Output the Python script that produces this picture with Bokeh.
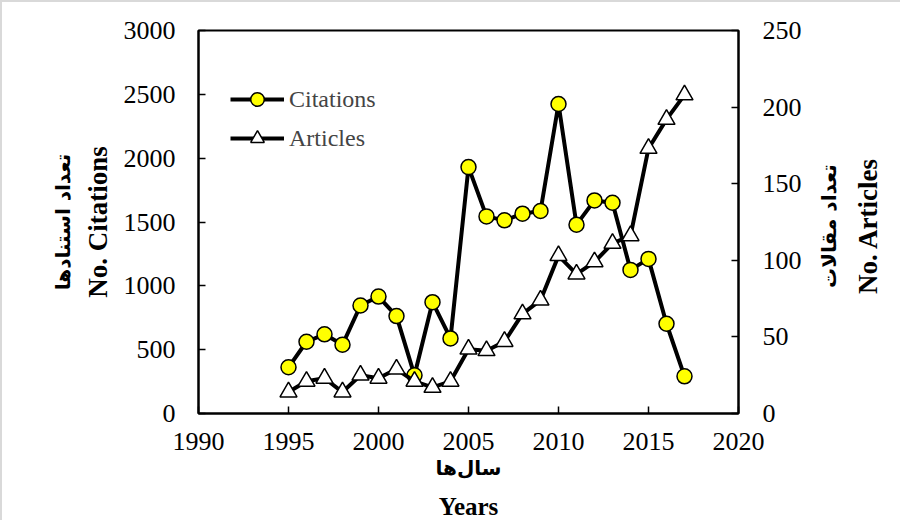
import math
from bokeh.plotting import figure
from bokeh.models import Range1d, LinearAxis, Legend, LegendItem, FixedTicker
from bokeh.embed import file_html
from bokeh.resources import INLINE

# ---- data ----
years = list(range(1995, 2018))
citations = [362, 562, 620, 539, 846, 916, 763, 299, 872, 588, 1930, 1544,
             1513, 1565, 1586, 2424, 1479, 1669, 1651, 1125, 1211, 703, 291]
articles = [14, 21, 23, 14, 25, 23, 29, 21, 17, 21, 42, 41, 47, 65, 74,
            103, 91, 99, 111, 116, 173, 192, 208]
x_ticks = [1990, 1995, 2000, 2005, 2010, 2015, 2020]
left_ticks = [0, 500, 1000, 1500, 2000, 2500, 3000]
right_ticks = [0, 50, 100, 150, 200, 250]

SERIF = "Liberation Serif"
AR_FONT = "DejaVu Sans"

p = figure(width=900, height=520,
           min_border_left=196, min_border_top=28,
           min_border_right=164, min_border_bottom=109,
           x_range=Range1d(1990, 2020), y_range=Range1d(0, 3000),
           output_backend="svg", toolbar_location=None)
p.styles = {"border-top": "2px solid #d9d9d9", "border-left": "2px solid #d9d9d9",
            "margin-bottom": "-12px"}
p.extra_y_ranges = {"art": Range1d(0, 250)}
p.grid.visible = False
p.outline_line_color = "black"
p.outline_line_width = 2

raxis = LinearAxis(y_range_name="art", ticker=FixedTicker(ticks=right_ticks))
p.add_layout(raxis, "right")
p.xaxis[0].ticker = FixedTicker(ticks=x_ticks)
p.yaxis[0].ticker = FixedTicker(ticks=left_ticks)

for ax in [p.xaxis[0], p.yaxis[0], raxis]:
    ax.axis_line_width = 2
    ax.axis_line_color = "black"
    ax.major_tick_in = 7
    ax.major_tick_out = 0
    ax.major_tick_line_width = 1.5
    ax.minor_tick_line_color = None
    ax.major_label_text_font = SERIF
    ax.major_label_text_font_size = "26px"
    ax.major_label_text_color = "black"
p.yaxis[0].major_label_standoff = 23
raxis.major_label_standoff = 24
p.xaxis[0].major_label_standoff = 19

def style_title(ax, text, font, size, standoff):
    ax.axis_label = text
    ax.axis_label_text_font = font
    ax.axis_label_text_font_size = size
    ax.axis_label_text_font_style = "bold"
    ax.axis_label_text_color = "black"
    ax.axis_label_standoff = standoff

def bare_axis(side, range_name=None):
    kw = {"y_range_name": range_name} if range_name else {}
    ax = LinearAxis(ticker=FixedTicker(ticks=[]), **kw)
    ax.axis_line_color = None
    ax.major_tick_line_color = None
    ax.minor_tick_line_color = None
    ax.major_tick_out = 0
    ax.major_tick_in = 0
    ax.major_label_standoff = 0
    p.add_layout(ax, side)
    return ax

# left titles
style_title(p.yaxis[0], "No. Citations", SERIF, "27px", 8)
style_title(bare_axis("left"), "تعداد استنادها", AR_FONT, "20px", 5)

# bottom titles
style_title(p.xaxis[0], "سال\u200cها", AR_FONT, "20px", 3)
style_title(bare_axis("below"), "Years", SERIF, "25px", 10)

# right titles: one rotated tick label each, reading bottom-to-top
def right_title(text, start, font, size, standoff):
    ax = bare_axis("right", "art")
    ax.ticker = FixedTicker(ticks=[start])
    ax.major_label_overrides = {start: text}
    ax.major_label_orientation = math.pi / 2
    ax.major_label_text_font = font
    ax.major_label_text_font_size = size
    ax.major_label_text_font_style = "bold"
    ax.major_label_text_color = "black"
    ax.major_label_standoff = standoff
    return ax

right_title("تعداد مقالات", 82, AR_FONT, "20px", 25)
right_title("No. Articles", 78, SERIF, "27px", 12)

# ---- series ----
cl = p.line(years, citations, line_color="black", line_width=4)
cs = p.scatter(years, citations, marker="circle", size=15, fill_color="#FFFF00",
               line_color="black", line_width=1.5)
al = p.line(years, articles, y_range_name="art", line_color="black", line_width=4)
ats = p.scatter(years, articles, y_range_name="art", marker="triangle", size=17,
                fill_color="white", line_color="black", line_width=1.5)

legend = Legend(items=[LegendItem(label="Citations", renderers=[cl, cs]),
                       LegendItem(label="Articles", renderers=[al, ats])],
                location=(32, 258), border_line_color=None,
                background_fill_alpha=0, padding=0, margin=0,
                glyph_width=54, glyph_height=34, label_height=34,
                spacing=5, label_standoff=5,
                label_text_font=SERIF, label_text_font_size="24px")
p.add_layout(legend)

open("out.html", "w").write(file_html(p, INLINE))
